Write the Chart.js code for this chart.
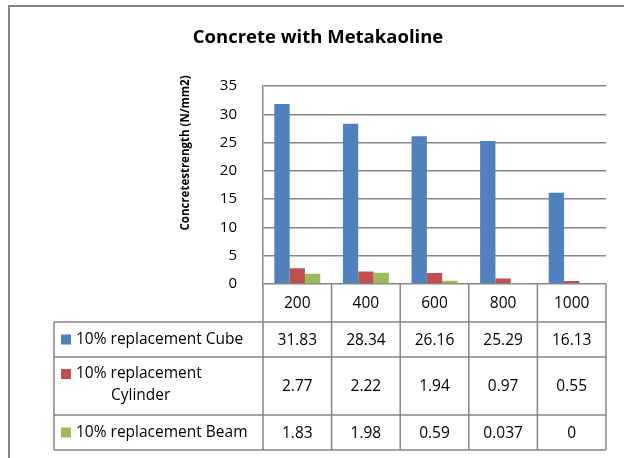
<!DOCTYPE html>
<html>
<head>
<meta charset="utf-8">
<script src="https://cdn.jsdelivr.net/npm/chart.js@4"></script>
<style>
  body { margin: 0; background: #fff; }
  canvas { display: block; }
</style>
</head>
<body>
<canvas id="chart" width="624" height="458"></canvas>
<script>
const categories = ['200', '400', '600', '800', '1000'];
const cubeValues = [31.83, 28.34, 26.16, 25.29, 16.13];
const cylinderValues = [2.77, 2.22, 1.94, 0.97, 0.55];
const beamValues = [1.83, 1.98, 0.59, 0.037, 0];
const seriesNames = ['10% replacement Cube', '10% replacement Cylinder', '10% replacement Beam'];
const seriesColors = ['#4F81BD', '#C0504D', '#9BBB59'];
const yAxisTitle = 'Concretestrength (N/mm2)';

const FONT = '"Open Sans", "Liberation Sans", sans-serif';
const GRID = '#868686';

// table rows under the plot: label lines + values
const tableRows = [
    { lines: ['10% replacement Cube'], values: cubeValues, height: 35 },
    { lines: ['10% replacement', 'Cylinder'], values: cylinderValues, height: 58 },
    { lines: ['10% replacement Beam'], values: beamValues, height: 35 }
];

const framePlugin = {
    id: 'frame',
    beforeDraw(chart) {
        const ctx = chart.ctx;
        ctx.save();
        ctx.strokeStyle = GRID;
        ctx.lineWidth = 2;
        ctx.strokeRect(9, 6, 700, 600);
        ctx.restore();
    }
};

const tablePlugin = {
    id: 'dataTable',
    afterDraw(chart) {
        const { ctx, chartArea } = chart;
        const x = chart.scales.x;
        const colW = (chartArea.right - chartArea.left) / categories.length;
        const tableLeft = 54;
        const headerTop = chartArea.bottom;
        const headerBottom = headerTop + 38;

        ctx.save();

        // y axis title, sits a bit above the plot centre like the original
        ctx.save();
        ctx.translate(186, 153);
        ctx.rotate(-Math.PI / 2);
        ctx.fillStyle = '#000';
        ctx.font = 'bold 11.5px ' + FONT;
        ctx.textAlign = 'center';
        ctx.textBaseline = 'middle';
        ctx.fillText(yAxisTitle, 0, 0);
        ctx.restore();

        ctx.strokeStyle = GRID;
        ctx.lineWidth = 1.5;
        ctx.fillStyle = '#000';
        ctx.font = '15.5px ' + FONT;
        ctx.textAlign = 'center';
        ctx.textBaseline = 'middle';

        // header row with category labels
        ctx.beginPath();
        ctx.moveTo(chartArea.left, headerBottom);
        ctx.lineTo(chartArea.right, headerBottom);
        for (let i = 0; i <= categories.length; i++) {
            const cx = chartArea.left + i * colW;
            ctx.moveTo(cx, headerTop);
            ctx.lineTo(cx, headerBottom);
        }
        ctx.stroke();
        categories.forEach((c, i) => {
            ctx.fillText(c, x.getPixelForValue(i), (headerTop + headerBottom) / 2 + 1);
        });

        // series rows
        let top = headerBottom;
        tableRows.forEach((row, r) => {
            const bottom = top + row.height;
            const mid = (top + bottom) / 2;
            ctx.beginPath();
            ctx.moveTo(tableLeft, bottom);
            ctx.lineTo(chartArea.right, bottom);
            ctx.moveTo(tableLeft, top);
            ctx.lineTo(tableLeft, bottom);
            for (let i = 0; i <= categories.length; i++) {
                const cx = chartArea.left + i * colW;
                ctx.moveTo(cx, top);
                ctx.lineTo(cx, bottom);
            }
            ctx.stroke();

            // legend key + label
            const firstY = row.lines.length > 1 ? mid - 12 : mid;
            ctx.fillStyle = seriesColors[r];
            ctx.fillRect(61, firstY - 5, 10, 10);
            ctx.fillStyle = '#000';
            ctx.textAlign = 'left';
            ctx.fillText(row.lines[0], 76, firstY);
            if (row.lines.length > 1) {
                ctx.fillText(row.lines[1], 111, firstY + 22);
            }

            // values
            ctx.textAlign = 'center';
            row.values.forEach((v, i) => {
                ctx.fillText(String(v), x.getPixelForValue(i), mid + 1);
            });
            top = bottom;
        });
        ctx.beginPath();
        ctx.moveTo(tableLeft, headerBottom);
        ctx.lineTo(chartArea.left, headerBottom);
        ctx.stroke();
        ctx.restore();
    }
};

new Chart(document.getElementById('chart').getContext('2d'), {
    type: 'bar',
    data: {
        labels: categories,
        datasets: [
            { label: seriesNames[0], data: cubeValues, backgroundColor: seriesColors[0] },
            { label: seriesNames[1], data: cylinderValues, backgroundColor: seriesColors[1] },
            { label: seriesNames[2], data: beamValues, backgroundColor: seriesColors[2] }
        ]
    },
    options: {
        responsive: false,
        animation: false,
        devicePixelRatio: 1,
        categoryPercentage: 0.67,
        barPercentage: 1,
        layout: {
            padding: { left: 30, right: 18, top: 0, bottom: 174 }
        },
        plugins: {
            legend: { display: false },
            tooltip: { enabled: false },
            title: {
                display: true,
                text: 'Concrete with Metakaoline',
                color: '#000',
                font: { family: FONT, size: 18.5, weight: 'bold' },
                padding: { top: 27, bottom: 37 }
            }
        },
        scales: {
            x: {
                ticks: { display: false },
                grid: { display: false },
                border: { display: false },
                afterFit(scale) { scale.height = 0; }
            },
            y: {
                min: 0,
                max: 35,
                ticks: {
                    stepSize: 5,
                    color: '#000',
                    padding: 26,
                    font: { family: FONT, size: 15 }
                },
                grid: { color: GRID, lineWidth: 1.5, drawTicks: false },
                border: { color: GRID, width: 1.5 },
                afterFit(scale) { scale.width = 233; }
            }
        }
    },
    plugins: [framePlugin, tablePlugin]
});
</script>
</body>
</html>
